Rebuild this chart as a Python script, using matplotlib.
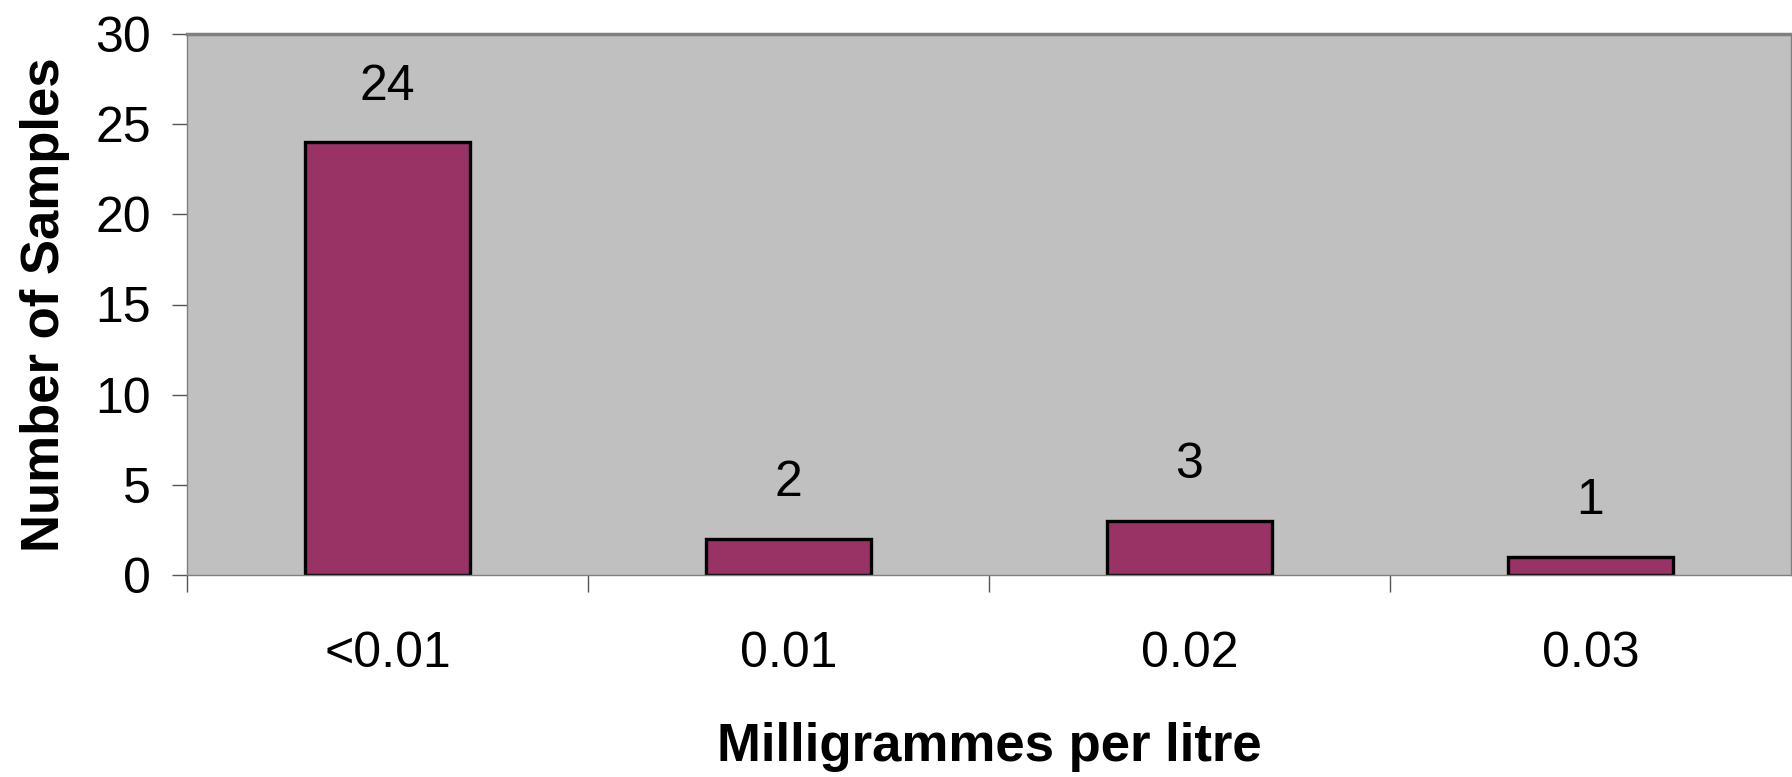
import matplotlib
matplotlib.use('Agg')
import matplotlib.pyplot as plt

categories = ['<0.01', '0.01', '0.02', '0.03']
samples = [24, 2, 3, 1]
y_ticks = [0, 5, 10, 15, 20, 25, 30]

plt.rcParams['font.family'] = ['Liberation Sans', 'DejaVu Sans']

fig = plt.figure(figsize=(17.92, 7.77), dpi=100)
ax = fig.add_axes([187 / 1792, 202 / 777, 1604 / 1792, 541 / 777])
ax.set_facecolor('#C0C0C0')

x = range(len(categories))
bars = ax.bar(x, samples, width=0.41, color='#993366', edgecolor='black', linewidth=2.4)

# value labels above bars
for xi, v in zip(x, samples):
    ax.annotate(str(v), (xi, v), xytext=(0, 40), textcoords='offset points',
                ha='center', va='center', fontsize=36)

ax.set_xlim(-0.5, 3.5)
ax.set_ylim(0, 30)
ax.set_yticks(y_ticks)
ax.set_xticks([i - 0.5 for i in range(len(categories))])
ax.set_xticklabels([])
ax.set_xticks(list(x), minor=True)
ax.set_xticklabels(categories, minor=True, fontsize=36)
ax.tick_params(axis='x', which='minor', length=0, pad=40)
ax.tick_params(axis='x', which='major', length=12, width=1, color='#555555', direction='out')
ax.tick_params(axis='y', length=11, width=1, color='#555555', labelsize=36, pad=15)

for s in ['left', 'bottom', 'right']:
    ax.spines[s].set_color('#808080')
    ax.spines[s].set_linewidth(1)
ax.spines['top'].set_color('#808080')
ax.spines['top'].set_linewidth(2.5)

ax.set_xlabel('Milligrammes per litre', fontsize=38, fontweight='bold', labelpad=33)
ax.set_ylabel('Number of Samples', fontsize=38, fontweight='bold', labelpad=18)

fig.savefig('out.png', dpi=100)
